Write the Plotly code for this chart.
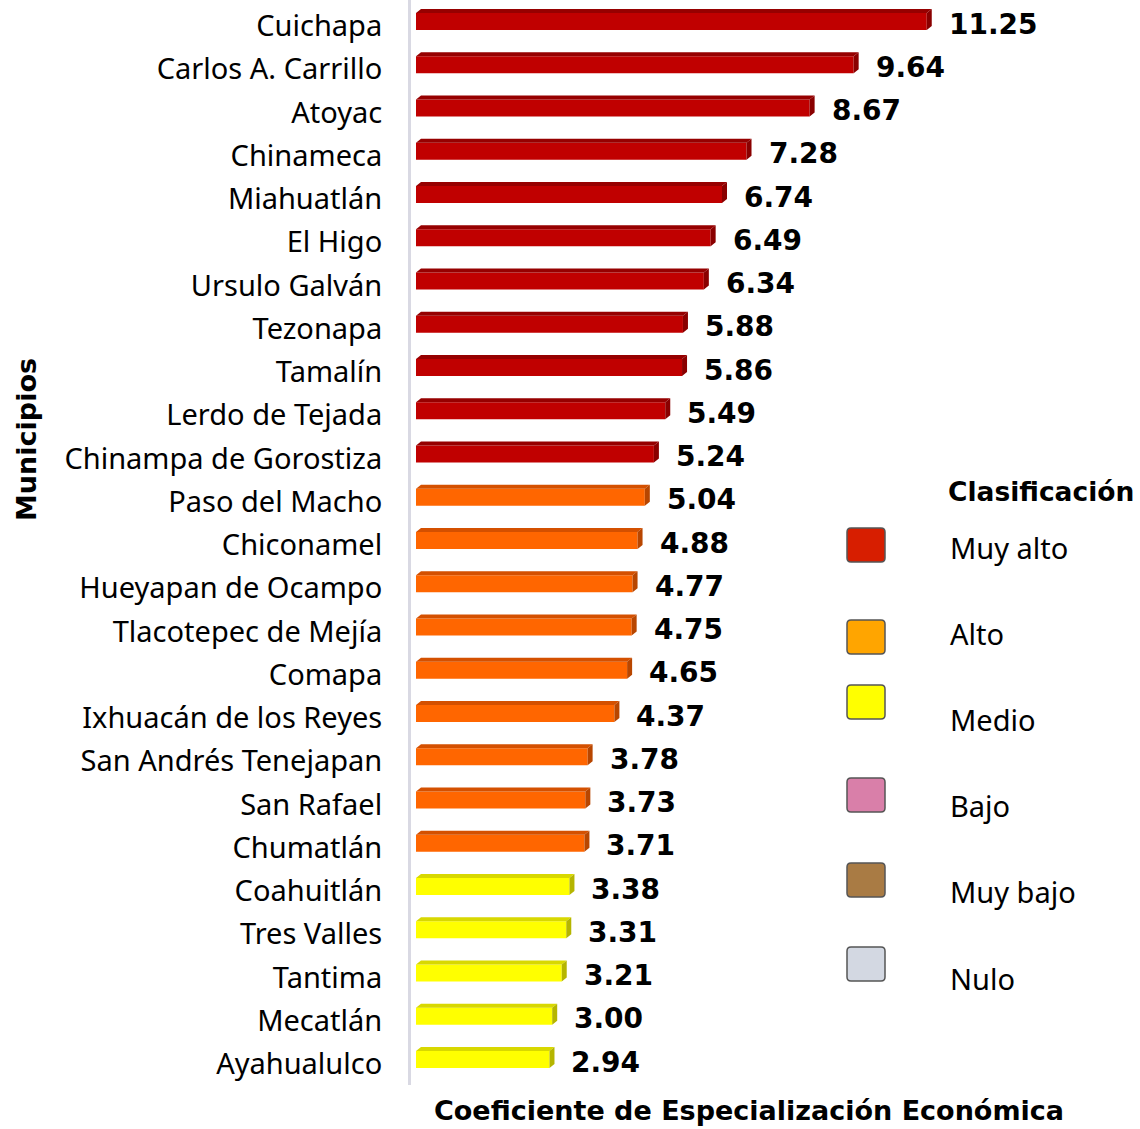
import plotly.graph_objects as go

municipios = ["Cuichapa", "Carlos A. Carrillo", "Atoyac", "Chinameca", "Miahuatlán", "El Higo",
              "Ursulo Galván", "Tezonapa", "Tamalín", "Lerdo de Tejada", "Chinampa de Gorostiza",
              "Paso del Macho", "Chiconamel", "Hueyapan de Ocampo", "Tlacotepec de Mejía", "Comapa",
              "Ixhuacán de los Reyes", "San Andrés Tenejapan", "San Rafael", "Chumatlán",
              "Coahuitlán", "Tres Valles", "Tantima", "Mecatlán", "Ayahualulco"]
valores = [11.25, 9.64, 8.67, 7.28, 6.74, 6.49, 6.34, 5.88, 5.86, 5.49, 5.24,
           5.04, 4.88, 4.77, 4.75, 4.65, 4.37, 3.78, 3.73, 3.71,
           3.38, 3.31, 3.21, 3.00, 2.94]
clasif = ["Muy alto"] * 11 + ["Alto"] * 9 + ["Medio"] * 5

legend_cats = ["Muy alto", "Alto", "Medio", "Bajo", "Muy bajo", "Nulo"]
legend_cols = ["#D71E00", "#FFA500", "#FFFF00", "#D97FA9", "#A97B44", "#D3D8E2"]

bar_front = {"Muy alto": "#C00000", "Alto": "#FF6600", "Medio": "#FFFF00"}
bar_top = {"Muy alto": "#960000", "Alto": "#D45000", "Medio": "#D8D800"}
bar_side = {"Muy alto": "#8A0000", "Alto": "#B84600", "Medio": "#B5B500"}

W, H = 1140, 1129
L, R, T, B = 411, 0, 0, 44
pw, ph = W - L - R, H - T - B
PXX = 45.4       # px per unit x
PXY = 43.25      # px per category
x0 = -5 / PXX
xr = [x0, x0 + pw / PXX]
ytop = -26 / PXY
yr = [ytop + ph / PXY, ytop]

bw = 17 / PXY
boff = -4.5 / PXY - bw / 2
dx = 5 / PXX
dy = 4 / PXY

fig = go.Figure()
pos = list(range(len(municipios)))
for c in ["Muy alto", "Alto", "Medio"]:
    idx = [i for i in pos if clasif[i] == c]
    fig.add_trace(go.Bar(
        y=[pos[i] for i in idx], x=[valores[i] for i in idx], orientation="h",
        width=bw, offset=boff, marker=dict(color=bar_front[c], line=dict(width=0)),
        showlegend=False, hoverinfo="skip"))
    tx, ty, sx, sy = [], [], [], []
    for i in idx:
        v = valores[i]
        yt = pos[i] + boff
        yb = yt + bw
        tx += [0, v, v + dx, dx, 0, None]
        ty += [yt, yt, yt - dy, yt - dy, yt, None]
        sx += [v, v + dx, v + dx, v, v, None]
        sy += [yt, yt - dy, yb - dy, yb, yt, None]
    fig.add_trace(go.Scatter(x=tx, y=ty, mode="lines", fill="toself", fillcolor=bar_top[c],
                             line=dict(width=0), showlegend=False, hoverinfo="skip"))
    fig.add_trace(go.Scatter(x=sx, y=sy, mode="lines", fill="toself", fillcolor=bar_side[c],
                             line=dict(width=0), showlegend=False, hoverinfo="skip"))

annotations = []
for i, v in enumerate(valores):
    annotations.append(dict(x=v, y=pos[i], xref="x", yref="y", text=f"{v:.2f}", showarrow=False,
                            xanchor="left", xshift=20, yshift=2,
                            font=dict(family="DejaVu Sans", size=28, color="black", weight="bold")))

def px(xp):
    return (xp - L) / pw

def py(yp):
    return 1 - (yp - T) / ph

annotations.append(dict(x=px(749), y=py(1110), xref="paper", yref="paper", showarrow=False,
                        text="Coeficiente de Especialización Económica", xanchor="center", yanchor="middle",
                        font=dict(family="DejaVu Sans", size=27, color="black", weight="bold")))
annotations.append(dict(x=px(26), y=py(440), xref="paper", yref="paper", showarrow=False,
                        text="Municipios", textangle=-90, xanchor="center", yanchor="middle",
                        font=dict(family="DejaVu Sans", size=27, color="black", weight="bold")))
annotations.append(dict(x=px(946), y=py(491), xref="paper", yref="paper", showarrow=False,
                        text="Clasificación", xanchor="left", yanchor="middle",
                        font=dict(family="DejaVu Sans", size=26.5, color="black", weight="bold")))

shapes = []
box_y = [545, 637, 702, 795, 880, 964]
text_y = [547, 633, 719, 805, 891, 978]
r = 4
for cat, col, yc, yt_ in zip(legend_cats, legend_cols, box_y, text_y):
    x1p, x2p = 847, 885
    y1p, y2p = yc - 17, yc + 17
    a1, a2 = px(x1p), px(x2p)
    b1, b2 = py(y2p), py(y1p)
    rx, ry = r / pw, r / ph
    path = (f"M {a1+rx},{b1} L {a2-rx},{b1} Q {a2},{b1} {a2},{b1+ry} L {a2},{b2-ry} Q {a2},{b2} {a2-rx},{b2} "
            f"L {a1+rx},{b2} Q {a1},{b2} {a1},{b2-ry} L {a1},{b1+ry} Q {a1},{b1} {a1+rx},{b1} Z")
    shapes.append(dict(type="path", path=path, xref="paper", yref="paper", fillcolor=col,
                       line=dict(color="#555555", width=1.5)))
    annotations.append(dict(x=px(948), y=py(yt_), xref="paper", yref="paper", showarrow=False,
                            text=cat, xanchor="left", yanchor="middle",
                            font=dict(family="Noto Sans", size=29, color="black")))

fig.update_layout(
    width=W, height=H, margin=dict(l=L, r=R, t=T, b=B),
    plot_bgcolor="white", paper_bgcolor="white",
    barmode="overlay", showlegend=False,
    xaxis=dict(range=xr, showgrid=False, zeroline=False, showticklabels=False, showline=False),
    yaxis=dict(range=yr, tickmode="array", tickvals=pos, ticktext=municipios, showgrid=False,
               zeroline=False, showline=True, linecolor="#D9D9E3", linewidth=3,
               ticks="outside", ticklen=20, tickcolor="rgba(0,0,0,0)",
               tickfont=dict(family="Noto Sans", size=29, color="black")),
    annotations=annotations, shapes=shapes,
)

fig.write_html("out.html", config={"displayModeBar": False},
               post_script="document.body.style.margin='0';document.body.style.overflow='hidden';")
